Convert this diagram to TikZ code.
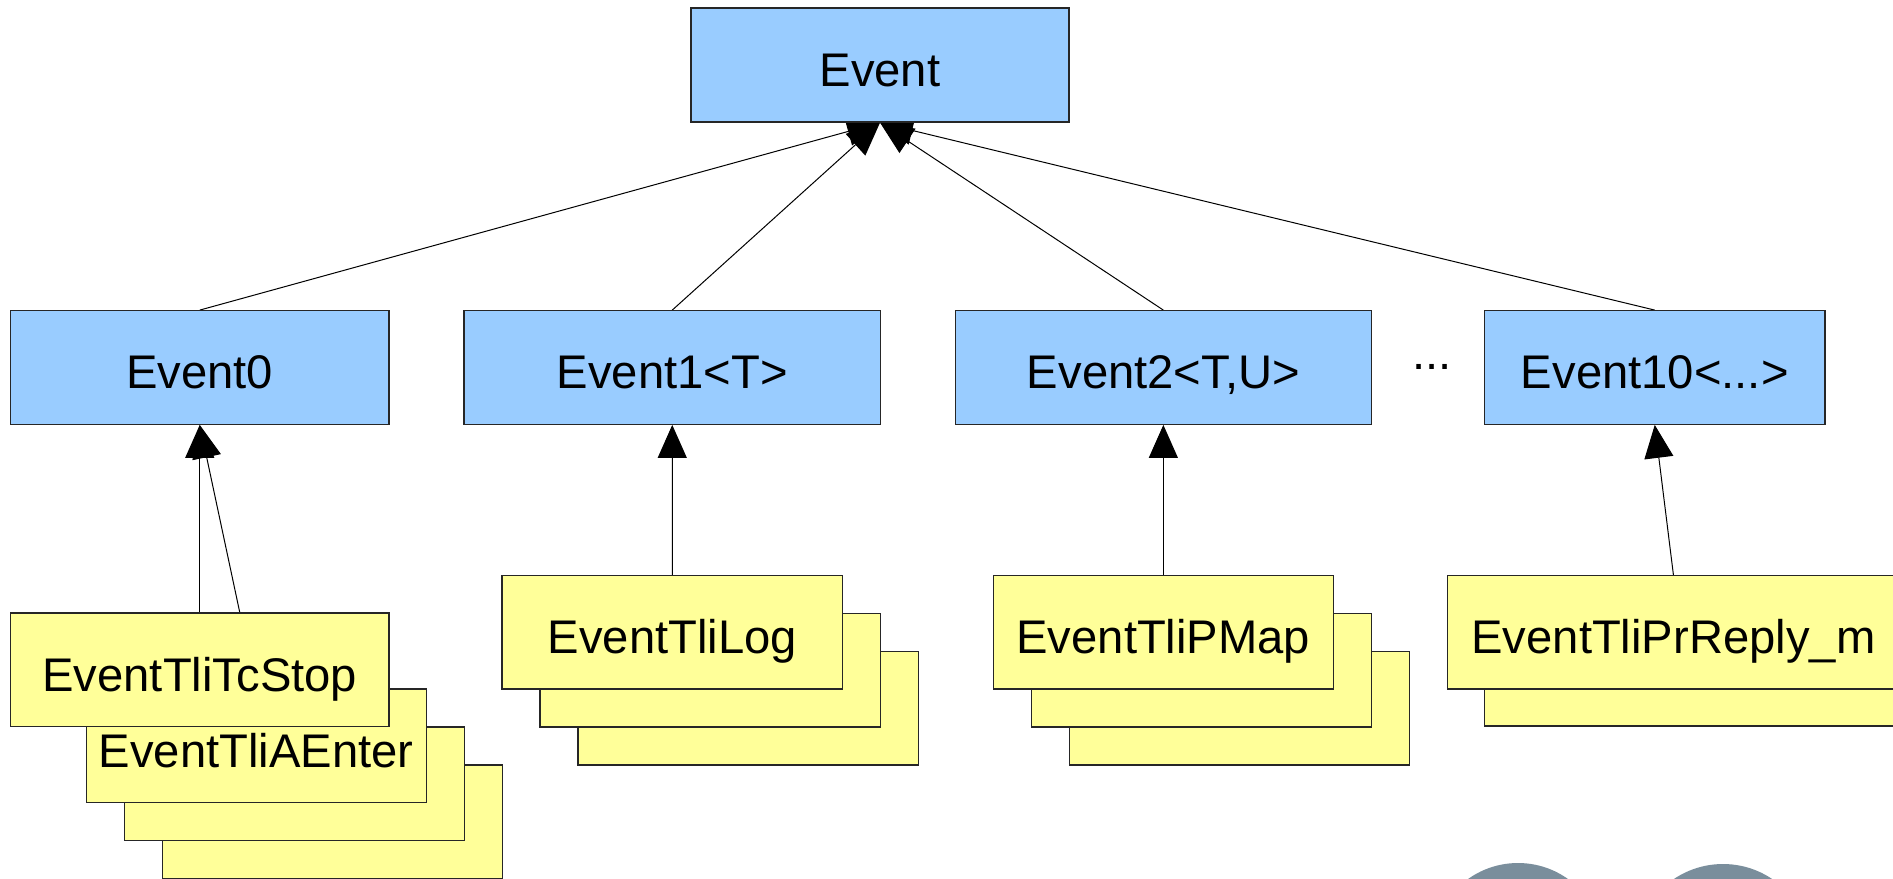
\documentclass[tikz,border=0pt]{standalone}
\usepackage{fontspec}
\setmainfont{Liberation Sans}
\usetikzlibrary{arrows.meta,calc}
\pgfdeclarelayer{background}
\pgfsetlayers{background,main}

\definecolor{baseblue}{RGB}{153,204,255}
\definecolor{leafyellow}{RGB}{255,255,153}
\definecolor{logogrey}{RGB}{122,142,156}

\tikzset{
  box/.style={draw=black!85, line width=0.65pt, inner sep=0pt,
    minimum height=56.75pt,
    font=\fontsize{23.6}{28}\selectfont, text height=22.9pt, text depth=1.6pt},
  basebox/.style={box, fill=baseblue},
  leafbox/.style={box, fill=leafyellow},
  dotsnote/.style={inner sep=0pt, font=\fontsize{23.6}{28}\selectfont},
  inherit/.style={line width=0.5pt, draw=black,
    -{Triangle[length=16.5pt,width=14.5pt]}},
}

\begin{document}
\begin{tikzpicture}[x=0.5pt,y=-0.5pt]
  \useasboundingbox (0,0) rectangle (1893,878);
  \clip (0,0) rectangle (1893,878);

  % globe logos at the lower right corner
  \fill[logogrey] (1518,949) circle[radius=86];
  \fill[logogrey] (1723,952) circle[radius=88];

  % root class
  \node[basebox, minimum width=189pt, minimum height=57pt] (event) at (880,65) {Event};

  % template base classes
  \node[basebox, minimum width=189.25pt] (e0)  at (199.75,367.5)  {Event0};
  \node[basebox, minimum width=208.25pt] (e1)  at (672.25,367.5)  {Event1<T>};
  \node[basebox, minimum width=208.15pt] (e2)  at (1163.35,367.5) {Event2<T,U>};
  \node[basebox, minimum width=170.25pt] (e10) at (1654.75,367.5) {Event10<...>};
  \node[dotsnote, anchor=base] (more) at (1432,369) {...};

  % concrete events derived from Event0
  \node[leafbox, minimum width=170pt] (aenter3) at (332.3,821.8) {};
  \node[leafbox, minimum width=170pt] (aenter2) at (294.3,783.8) {};
  \node[leafbox, minimum width=170pt] (aenter)  at (256.3,745.8) {EventTliAEnter};
  \node[leafbox, minimum width=189.25pt] (tcstop) at (199.75,669.75) {EventTliTcStop};

  % concrete events derived from Event1<T>
  \node[leafbox, minimum width=170.3pt] (log3) at (748.3,708.3) {};
  \node[leafbox, minimum width=170.3pt] (log2) at (710.3,670.3) {};
  \node[leafbox, minimum width=170.3pt] (log)  at (672.3,632.3) {EventTliLog};

  % concrete events derived from Event2<T,U>
  \node[leafbox, minimum width=169.85pt] (pmap3) at (1239.35,708.3) {};
  \node[leafbox, minimum width=169.85pt] (pmap2) at (1201.35,670.3) {};
  \node[leafbox, minimum width=169.85pt] (pmap)  at (1163.35,632.3) {EventTliPMap};

  % concrete events derived from Event10<...>
  \node[leafbox, minimum width=226pt] (prreply2) at (1710.4,669.3) {};
  \node[leafbox, minimum width=226pt] (prreply)  at (1673.4,632.3) {EventTliPrReply\_m};

  \coordinate (tcstop-r) at ($(tcstop.north)+(40,0)$);

  % generalisation arrows, kept behind the boxes
  \begin{pgfonlayer}{background}
    \draw[inherit] (e0.north)  -- (event.south);
    \draw[inherit] (e1.north)  -- (event.south);
    \draw[inherit] (e2.north)  -- (event.south);
    \draw[inherit] (e10.north) -- (event.south);

    \draw[inherit] (tcstop.north)  -- (e0.south);
    \draw[inherit] (tcstop-r)      -- (e0.south);
    \draw[inherit] (log.north)     -- (e1.south);
    \draw[inherit] (pmap.north)    -- (e2.south);
    \draw[inherit] (prreply.north) -- (e10.south);
  \end{pgfonlayer}
\end{tikzpicture}
\end{document}
